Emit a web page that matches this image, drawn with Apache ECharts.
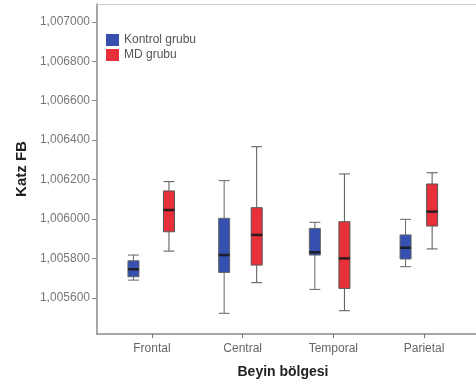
<!DOCTYPE html>
<html>
<head>
<meta charset="utf-8">
<script src="https://cdn.jsdelivr.net/npm/echarts@6/dist/echarts.min.js"></script>
<style>
  html, body { margin: 0; padding: 0; background: #fff; }
  #chart { width: 476px; height: 385px; }
</style>
</head>
<body>
<div id="chart"></div>
<script>
const categories = ["Frontal", "Central", "Temporal", "Parietal"];
// [min, Q1, median, Q3, max]
const kontrolBox = [
  [1.005691, 1.005708, 1.005746, 1.005789, 1.005818],
  [1.005523, 1.00573, 1.005818, 1.006004, 1.006195],
  [1.005644, 1.005818, 1.005832, 1.005953, 1.005984],
  [1.005759, 1.005798, 1.005855, 1.00592, 1.005999],
];
const mdBox = [
  [1.005838, 1.005936, 1.006046, 1.006143, 1.00619],
  [1.005678, 1.005767, 1.00592, 1.006058, 1.006367],
  [1.005536, 1.005649, 1.005801, 1.005987, 1.006229],
  [1.005849, 1.005965, 1.006038, 1.006178, 1.006235],
];
const yTicks = [1.0056, 1.0058, 1.006, 1.0062, 1.0064, 1.0066, 1.0068, 1.007];
const yMin = 1.005418;
const yMax = 1.00709;

const font = "Liberation Sans, Arial, sans-serif";
const blue = "#3550b0";
const red = "#e8303a";
// grid offsets: category bands start at 106.6, boxes sit 18.5px left/right of band centre
const gridTop = 4;
const gridBottom = 51;
const bandLeft = 106.6;
const bandRight = 6.6;
const shift = 18.5;

function hiddenY(gridIndex) {
  return { type: "value", gridIndex: gridIndex, min: yMin, max: yMax, show: false };
}
function hiddenX(gridIndex) {
  return { type: "category", gridIndex: gridIndex, data: categories, show: false };
}

const chart = echarts.init(document.getElementById("chart"), null, { renderer: "canvas" });
chart.setOption({
  animation: false,
  textStyle: { fontFamily: font },
  legend: {
    orient: "vertical",
    left: 106,
    top: 34,
    padding: 0,
    itemWidth: 13,
    itemHeight: 12,
    itemGap: 3,
    icon: "rect",
    textStyle: { fontSize: 12, color: "#555", fontFamily: font },
    data: [
      { name: "Kontrol grubu", itemStyle: { color: blue, borderWidth: 0 } },
      { name: "MD grubu", itemStyle: { color: red, borderWidth: 0 } },
    ],
  },
  grid: [
    { left: 97, right: 0, top: gridTop, bottom: gridBottom },
    { left: bandLeft, right: bandRight, top: gridTop, bottom: gridBottom },
    { left: bandLeft - shift, right: bandRight + shift, top: gridTop, bottom: gridBottom },
    { left: bandLeft + shift, right: bandRight - shift, top: gridTop, bottom: gridBottom },
  ],
  xAxis: [
    {
      type: "category",
      gridIndex: 0,
      data: categories,
      name: "Beyin bölgesi",
      nameLocation: "middle",
      nameGap: 31,
      nameTextStyle: { fontSize: 14, fontWeight: "bold", color: "#222", padding: [0, 7, 0, 0] },
      axisLine: { lineStyle: { color: "#8a8a8a", width: 1.5 } },
      axisTick: { show: false },
      axisLabel: { show: false },
    },
    {
      type: "category",
      gridIndex: 0,
      position: "top",
      data: categories,
      axisLine: { lineStyle: { color: "#cfcfcf", width: 1 } },
      axisTick: { show: false },
      axisLabel: { show: false },
    },
    {
      type: "category",
      gridIndex: 1,
      data: categories,
      axisLine: { show: false },
      axisTick: { show: true, alignWithLabel: true, length: 4, lineStyle: { color: "#777" } },
      axisLabel: { fontSize: 12, color: "#666", margin: 9 },
    },
    hiddenX(2),
    hiddenX(3),
  ],
  yAxis: [
    {
      type: "value",
      gridIndex: 0,
      min: yMin,
      max: yMax,
      name: "Katz FB",
      nameLocation: "middle",
      nameGap: 68,
      nameTextStyle: { fontSize: 15, fontWeight: "bold", color: "#222" },
      axisLine: { show: true, lineStyle: { color: "#8a8a8a", width: 1.5 } },
      axisTick: { show: true, length: 5, customValues: yTicks, lineStyle: { color: "#888" } },
      axisLabel: {
        customValues: yTicks,
        fontSize: 12,
        color: "#777",
        margin: 7,
        formatter: (v) => v.toFixed(6).replace(".", ","),
      },
      splitLine: { show: false },
    },
    hiddenY(1),
    hiddenY(2),
    hiddenY(3),
  ],
  series: [
    {
      name: "Kontrol grubu",
      type: "boxplot",
      xAxisIndex: 3,
      yAxisIndex: 2,
      data: kontrolBox,
      boxWidth: [11, 11],
      itemStyle: { color: blue, borderColor: "#666", borderWidth: 1 },
      emphasis: { disabled: true },
    },
    {
      name: "Kontrol medyan",
      type: "scatter",
      xAxisIndex: 3,
      yAxisIndex: 2,
      data: kontrolBox.map((b) => b[2]),
      symbol: "rect",
      symbolSize: [11, 2.5],
      itemStyle: { color: "#111" },
      silent: true,
      z: 5,
    },
    {
      name: "MD grubu",
      type: "boxplot",
      xAxisIndex: 4,
      yAxisIndex: 3,
      data: mdBox,
      boxWidth: [11, 11],
      itemStyle: { color: red, borderColor: "#555", borderWidth: 1 },
      emphasis: { disabled: true },
    },
    {
      name: "MD medyan",
      type: "scatter",
      xAxisIndex: 4,
      yAxisIndex: 3,
      data: mdBox.map((b) => b[2]),
      symbol: "rect",
      symbolSize: [11, 2.5],
      itemStyle: { color: "#111" },
      silent: true,
      z: 5,
    },
  ],
});
</script>
</body>
</html>
